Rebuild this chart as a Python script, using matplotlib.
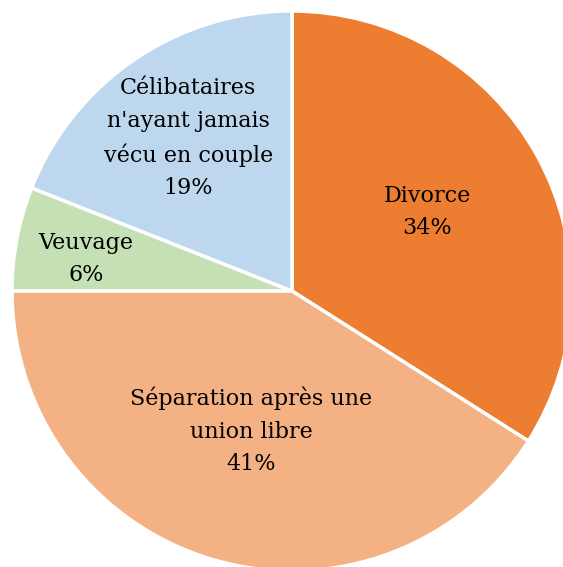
import matplotlib
matplotlib.use("Agg")
import matplotlib.pyplot as plt
import numpy as np

categories = ["Divorce", "Séparation après une\nunion libre", "Veuvage",
              "Célibataires\nn'ayant jamais\nvécu en couple"]
values = [34, 41, 6, 19]
colors = ["#ED7D31", "#F4B183", "#C5E0B4", "#BDD7EE"]
label_dist = [0.56, 0.52, 0.745, 0.66]
label_shift = [1.5, 0, 2, 0]

W, H = 563, 567
fig = plt.figure(figsize=(W / 100, H / 100), dpi=100)
ax = fig.add_axes([0, 0, 1, 1])

cx, cy, R = 292, H - 291, 280
wedges, _ = ax.pie(values, colors=colors, startangle=90, counterclock=False,
                   center=(cx, cy), radius=R, frame=True,
                   wedgeprops=dict(edgecolor="white", linewidth=2.5))
ax.set_xlim(0, W)
ax.set_ylim(0, H)
ax.set_aspect("equal")
ax.axis("off")

for w, cat, v, d, s in zip(wedges, categories, values, label_dist, label_shift):
    ang = np.deg2rad((w.theta1 + w.theta2) / 2 + s)
    x = cx + d * R * np.cos(ang)
    y = cy + d * R * np.sin(ang)
    ax.text(x, y, f"{cat}\n{v}%", ha="center", va="center",
            fontsize=16, family="DejaVu Serif", linespacing=1.62, color="black")

fig.savefig("out.png", dpi=100)
